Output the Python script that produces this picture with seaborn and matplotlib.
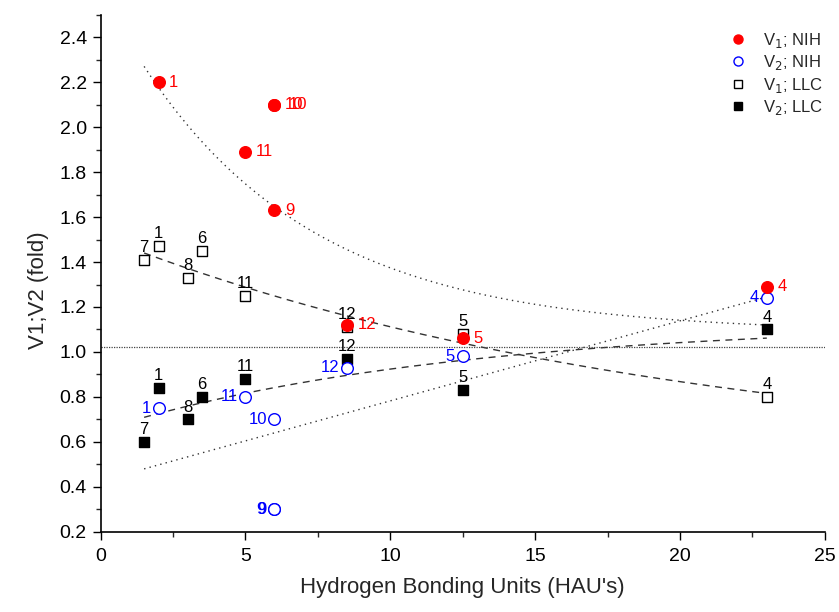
import numpy as np
import pandas as pd
import matplotlib
matplotlib.use("Agg")
import matplotlib.pyplot as plt
import seaborn as sns
from matplotlib.lines import Line2D
from matplotlib.ticker import MultipleLocator, FormatStrFormatter

sns.set_theme(style="ticks")
plt.rcParams['font.family'] = ['Liberation Sans', 'DejaVu Sans']

# ---- data ----
v1_nih_x = [2, 6, 6, 5, 6, 8.5, 12.5, 23]
v1_nih_y = [2.20, 2.10, 2.10, 1.89, 1.63, 1.12, 1.06, 1.29]
v1_nih_lab = ["1", "10", "10", "11", "9", "12", "5", "4"]

v2_nih_x = [2, 5, 6, 6, 6, 8.5, 12.5, 23]
v2_nih_y = [0.75, 0.80, 0.70, 0.30, 0.30, 0.93, 0.98, 1.24]
v2_nih_lab = ["1", "11", "10", "9", "9", "12", "5", "4"]

v1_llc_x = [1.5, 2, 3, 3.5, 5, 8.5, 12.5, 23]
v1_llc_y = [1.41, 1.47, 1.33, 1.45, 1.25, 1.11, 1.08, 0.80]
v1_llc_lab = ["7", "1", "8", "6", "11", "12", "5", "4"]

v2_llc_x = [1.5, 2, 3, 3.5, 5, 8.5, 12.5, 23]
v2_llc_y = [0.60, 0.84, 0.70, 0.80, 0.88, 0.97, 0.83, 1.10]
v2_llc_lab = ["7", "1", "8", "6", "11", "12", "5", "4"]

# fitted trend lines (parameters)
fit_range = (1.5, 23)
nih_v1_fit = dict(y0=1.087, A=1.519, t=6.0)      # decaying, dotted
llc_v1_fit = dict(y0=0.492, A=1.022, t=20.0)     # decaying, dashed
llc_v2_fit = dict(y0=1.132, A=-0.479, t=12.0)    # rising, dashed
nih_v2_line = dict(x=[1.5, 23], y=[0.48, 1.245])  # rising, dotted
ref_level = 1.02

RED = "#ff0000"
BLUE = "#0000ff"

fig = plt.figure(figsize=(8.39, 6.12), dpi=100)
ax = fig.add_axes([0.120, 0.131, 0.863, 0.845])

xs = np.linspace(fit_range[0], fit_range[1], 200)
def expfit(p):
    return p["y0"] + p["A"] * np.exp(-xs / p["t"])

sns.lineplot(x=xs, y=expfit(nih_v1_fit), ax=ax, color="#333333", lw=1.0,
             linestyle=(0, (1, 3)))
sns.lineplot(x=xs, y=expfit(llc_v1_fit), ax=ax, color="#333333", lw=1.0,
             linestyle=(0, (5, 4)))
sns.lineplot(x=xs, y=expfit(llc_v2_fit), ax=ax, color="#333333", lw=1.0,
             linestyle=(0, (5, 4)))
sns.lineplot(x=nih_v2_line["x"], y=nih_v2_line["y"], ax=ax, color="#333333",
             lw=1.0, linestyle=(0, (1, 3)))
ax.axhline(ref_level, color="#444444", lw=0.9, linestyle=(0, (1, 1)))

sns.scatterplot(x=v1_llc_x, y=v1_llc_y, ax=ax, marker="s", s=55,
                facecolor="white", edgecolor="black", linewidth=1.0, zorder=3)
sns.scatterplot(x=v2_llc_x, y=v2_llc_y, ax=ax, marker="s", s=55,
                color="black", edgecolor="black", linewidth=1.0, zorder=3)
sns.scatterplot(x=v2_nih_x, y=v2_nih_y, ax=ax, marker="o", s=70,
                facecolor="white", edgecolor=BLUE, linewidth=1.0, zorder=4)
sns.scatterplot(x=v1_nih_x, y=v1_nih_y, ax=ax, marker="o", s=70,
                color=RED, edgecolor=RED, linewidth=1.0, zorder=5)

fs = 12
for x, y, l in zip(v1_llc_x, v1_llc_y, v1_llc_lab):
    ax.annotate(l, (x, y), xytext=(0, 3.5), textcoords="offset points",
                ha="center", va="bottom", fontsize=fs, color="black", zorder=2)
for x, y, l in zip(v2_llc_x, v2_llc_y, v2_llc_lab):
    ax.annotate(l, (x, y), xytext=(0, 3.5), textcoords="offset points",
                ha="center", va="bottom", fontsize=fs, color="black", zorder=2)
seen = {}
for x, y, l in zip(v2_nih_x, v2_nih_y, v2_nih_lab):
    k = seen.get((x, y), 0)
    seen[(x, y)] = k + 1
    ax.annotate(l, (x, y), xytext=(-5.5 - 0.7 * k, 0), textcoords="offset points",
                ha="right", va="center", fontsize=fs, color=BLUE, zorder=6)
seen = {}
for x, y, l in zip(v1_nih_x, v1_nih_y, v1_nih_lab):
    k = seen.get((x, y), 0)
    seen[(x, y)] = k + 1
    ax.annotate(l, (x, y), xytext=(7.5 + 2.8 * k, 0), textcoords="offset points",
                ha="left", va="center", fontsize=fs, color=RED, zorder=6)

ax.set_xlim(0, 25)
ax.set_ylim(0.2, 2.5)
ax.xaxis.set_major_locator(MultipleLocator(5))
ax.xaxis.set_minor_locator(MultipleLocator(2.5))
ax.yaxis.set_major_locator(MultipleLocator(0.2))
ax.yaxis.set_minor_locator(MultipleLocator(0.1))
ax.yaxis.set_major_formatter(FormatStrFormatter("%.1f"))
ax.tick_params(which="major", direction="out", length=6, width=1.0,
               labelsize=14, colors="black", pad=4)
ax.tick_params(axis="x", which="major", pad=6)
ax.tick_params(which="minor", direction="out", length=3.5, width=1.0)
ax.tick_params(axis="y", which="both", left=True)
ax.tick_params(axis="x", which="both", bottom=True)
for s in ["top", "right"]:
    ax.spines[s].set_visible(False)
for s in ["left", "bottom"]:
    ax.spines[s].set_color("black")
    ax.spines[s].set_linewidth(1.2)
ax.set_xlabel("Hydrogen Bonding Units (HAU's)", fontsize=16, labelpad=8)
ax.set_ylabel("V1;V2 (fold)", fontsize=16)
ax.yaxis.set_label_coords(-0.072, 0.468)
ax.set_facecolor("white")

handles = [
    Line2D([], [], marker="o", ls="", color=RED, markersize=6.5),
    Line2D([], [], marker="o", ls="", markerfacecolor="white",
           markeredgecolor=BLUE, markersize=6.5),
    Line2D([], [], marker="s", ls="", markerfacecolor="white",
           markeredgecolor="black", markersize=5.5),
    Line2D([], [], marker="s", ls="", color="black", markersize=5.5),
]
labels = ["V$_1$; NIH", "V$_2$; NIH", "V$_1$; LLC", "V$_2$; LLC"]
ax.legend(handles, labels, loc="upper right", bbox_to_anchor=(1.0, 0.972),
          frameon=False, fontsize=12, handletextpad=1.0, labelspacing=0.2,
          handlelength=1.0, borderaxespad=0, borderpad=0.1)

fig.savefig("out.png", dpi=100)
